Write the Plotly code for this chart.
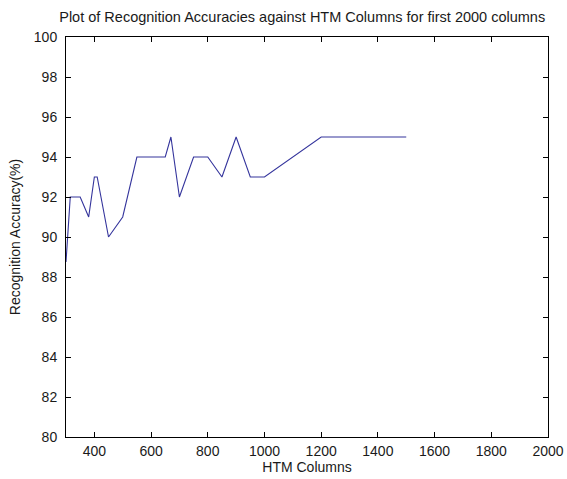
import plotly.graph_objects as go

columns = [300, 315, 350, 380, 400, 410, 450, 500, 550, 650, 670, 700, 750, 800, 850, 900, 950, 1000, 1200, 1500]
accuracy = [88.75, 92, 92, 91, 93, 93, 90, 91, 94, 94, 95, 92, 94, 94, 93, 95, 93, 93, 95, 95]

x_ticks = [400, 600, 800, 1000, 1200, 1400, 1600, 1800, 2000]
y_ticks = [80, 82, 84, 86, 88, 90, 92, 94, 96, 98, 100]

fig = go.Figure()
fig.add_trace(go.Scatter(x=columns, y=accuracy, mode="lines",
                         line=dict(color="#34349c", width=1.1),
                         showlegend=False, hoverinfo="x+y"))

font = dict(family="Liberation Sans, Arial, sans-serif", size=14, color="#1a1a1a")
axis_common = dict(showgrid=False, zeroline=False, showline=True, linecolor="black",
                   linewidth=1, mirror="ticks", ticks="inside", ticklen=5,
                   tickcolor="black", tickfont=font, automargin=False)

fig.update_layout(
    width=567, height=479,
    margin=dict(l=66, r=19, t=37, b=42),
    paper_bgcolor="white", plot_bgcolor="white",
    font=font,
    title=dict(text="Plot of Recognition Accuracies against HTM Columns for first 2000 columns",
               x=0.533, xanchor="center", y=0.9645, yanchor="middle",
               font=dict(family="Liberation Sans, Arial, sans-serif", size=14.5, color="#1a1a1a")),
    xaxis=dict(range=[300, 2000], tickvals=x_ticks, ticktext=[str(v) for v in x_ticks],
               ticklabelstandoff=1,
               title=dict(text="HTM Columns", standoff=0, font=font), **axis_common),
    yaxis=dict(range=[80, 100], tickvals=y_ticks, ticktext=[str(v) for v in y_ticks],
               ticklabelstandoff=5,
               title=dict(text="Recognition Accuracy(%)", standoff=9, font=font), **axis_common),
)

fig.write_html("out.html", config={"displayModeBar": False},
               post_script="document.body.style.margin='0';")
